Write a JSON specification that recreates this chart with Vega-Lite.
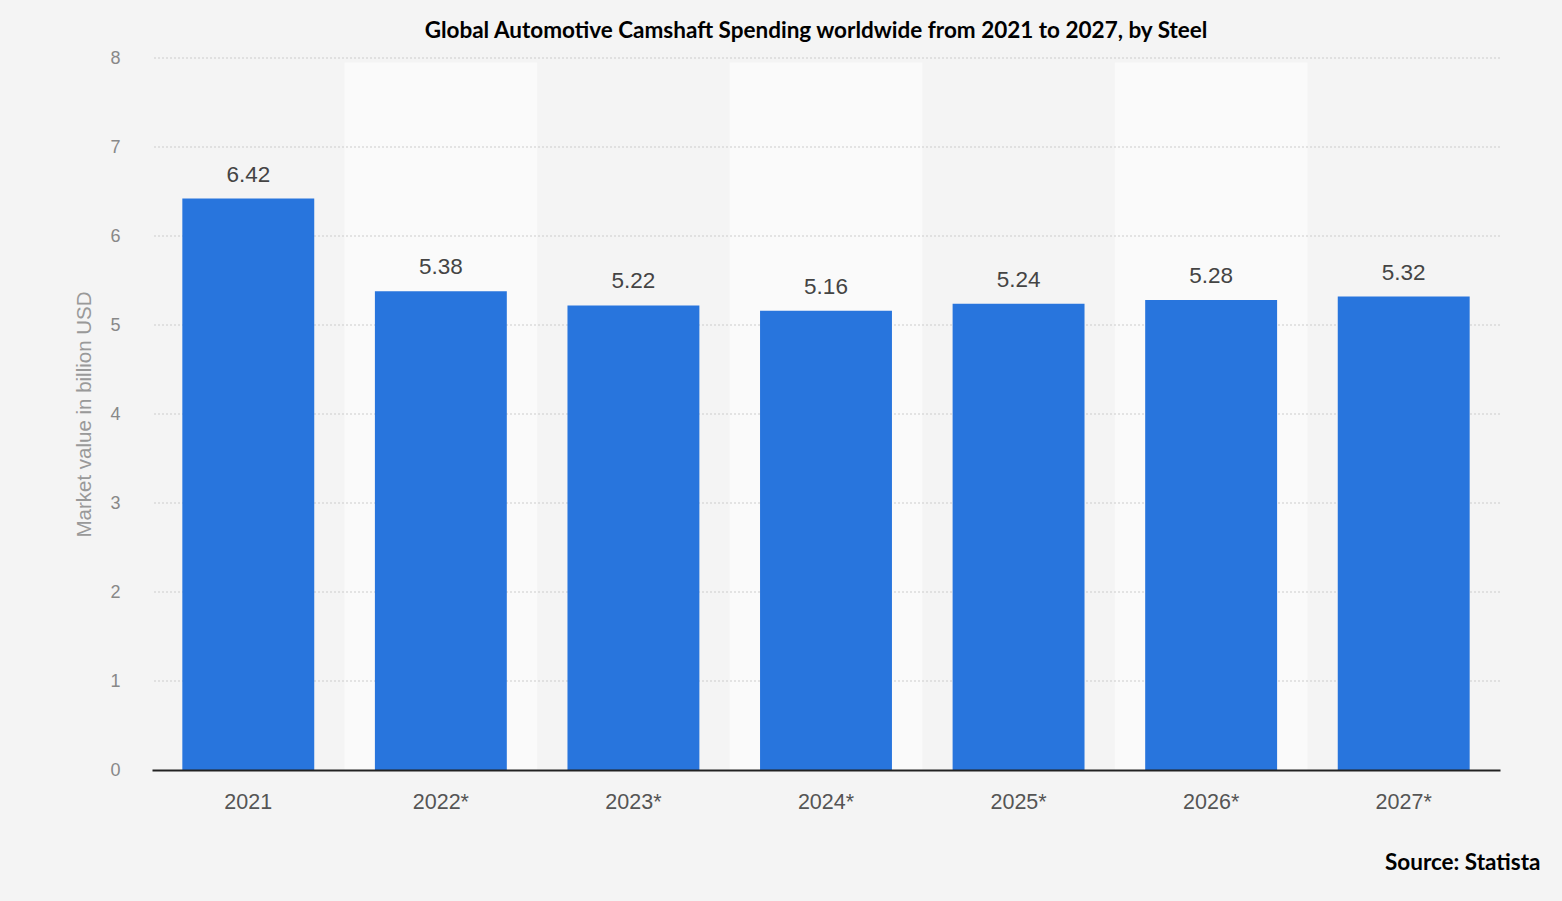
{
  "$schema": "https://vega.github.io/schema/vega-lite/v6.json",
  "width": 1348,
  "height": 712,
  "autosize": "none",
  "padding": {"left": 152, "top": 58, "right": 62, "bottom": 131},
  "background": "#f4f4f4",
  "title": {
    "text": "Global Automotive Camshaft Spending worldwide from 2021 to 2027, by Steel",
    "font": "Lato",
    "fontSize": 22.5,
    "fontWeight": "bold",
    "color": "#000000",
    "anchor": "middle",
    "frame": "group",
    "dx": -10,
    "baseline": "alphabetic",
    "offset": -11
  },
  "datasets": {
    "spend": [
      {"year": "2021", "value": 6.42},
      {"year": "2022*", "value": 5.38},
      {"year": "2023*", "value": 5.22},
      {"year": "2024*", "value": 5.16},
      {"year": "2025*", "value": 5.24},
      {"year": "2026*", "value": 5.28},
      {"year": "2027*", "value": 5.32}
    ],
    "grid": [
      {"tick": 1}, {"tick": 2}, {"tick": 3}, {"tick": 4},
      {"tick": 5}, {"tick": 6}, {"tick": 7}, {"tick": 8}
    ]
  },
  "data": {"name": "spend"},
  "config": {"view": {"stroke": null}},
  "layer": [
    {
      "transform": [{"filter": "indexof(['2022*', '2024*', '2026*'], datum.year) >= 0"}],
      "mark": {"type": "rect", "fill": "#fafafa"},
      "encoding": {
        "x": {
          "field": "year",
          "type": "nominal",
          "sort": ["2021", "2022*", "2023*", "2024*", "2025*", "2026*", "2027*"],
          "scale": {
            "domain": ["2021", "2022*", "2023*", "2024*", "2025*", "2026*", "2027*"],
            "paddingInner": 0,
            "paddingOuter": 0
          },
          "axis": {
            "title": "Source: Statista",
            "titleFont": "Lato",
            "titleFontSize": 22.5,
            "titleFontWeight": "bold",
            "titleColor": "#000000",
            "titleAlign": "right",
            "titleAnchor": "end",
            "titleX": 1388,
            "titleY": 99,
            "titleBaseline": "alphabetic",
            "labelAngle": 0,
            "labelFont": "Liberation Sans",
            "labelFontSize": 21.5,
            "labelColor": "#555555",
            "labelPadding": 21,
            "ticks": false,
            "domainColor": "#222222",
            "domainWidth": 2,
            "grid": false
          }
        },
        "y": {"datum": 7.95, "type": "quantitative"},
        "y2": {"datum": 0}
      }
    },
    {
      "data": {"name": "grid"},
      "mark": {"type": "rule", "color": "#cccccc", "strokeDash": [2, 2], "strokeWidth": 1},
      "encoding": {
        "y": {"field": "tick", "type": "quantitative"}
      }
    },
    {
      "mark": {"type": "bar", "color": "#2875dd", "width": {"band": 0.685}},
      "encoding": {
        "x": {"field": "year", "type": "nominal"},
        "y": {"field": "value", "type": "quantitative"}
      }
    },
    {
      "mark": {
        "type": "text",
        "font": "Liberation Sans",
        "fontSize": 22.5,
        "color": "#444444",
        "baseline": "alphabetic",
        "dy": -17
      },
      "encoding": {
        "x": {"field": "year", "type": "nominal"},
        "y": {"field": "value", "type": "quantitative"},
        "text": {"field": "value", "type": "quantitative", "format": ".2f"}
      }
    }
  ],
  "encoding": {
    "y": {
      "type": "quantitative",
      "scale": {"domain": [0, 8], "nice": false},
      "axis": {
        "title": "Market value in billion USD",
        "titleFont": "Liberation Sans",
        "titleFontSize": 20.5,
        "titleFontWeight": "normal",
        "titleColor": "#999999",
        "titlePadding": 15,
        "values": [0, 1, 2, 3, 4, 5, 6, 7, 8],
        "labelFont": "Liberation Sans",
        "labelFontSize": 18,
        "labelColor": "#888888",
        "labelPadding": 32,
        "ticks": false,
        "domain": false,
        "grid": false
      }
    }
  }
}
